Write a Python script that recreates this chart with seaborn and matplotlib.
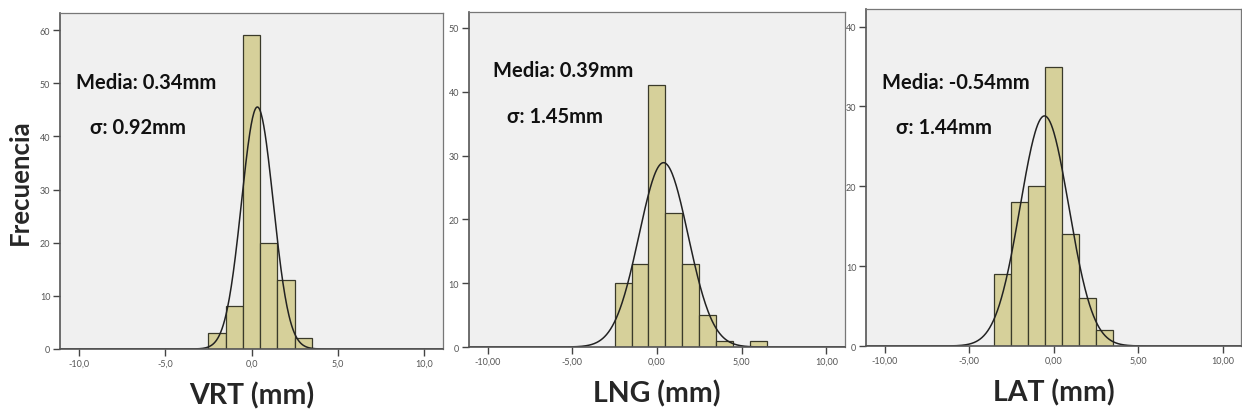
import matplotlib
matplotlib.use("Agg")
import matplotlib.pyplot as plt
import numpy as np
import seaborn as sns

# bin centres (width 1 mm) and counts
vrt_bins = [-2, -1, 0, 1, 2, 3]
vrt_counts = [3, 8, 59, 20, 13, 2]
lng_bins = [-2, -1, 0, 1, 2, 3, 4, 5, 6]
lng_counts = [10, 13, 41, 21, 13, 5, 1, 0, 1]
lat_bins = [-3, -2, -1, 0, 1, 2, 3]
lat_counts = [9, 18, 20, 35, 14, 6, 2]

means = [0.34, 0.39, -0.54]
sigmas = [0.92, 1.45, 1.44]
xlabels = ["VRT (mm)", "LNG (mm)", "LAT (mm)"]
xticks = [-10, -5, 0, 5, 10]
xticklabels = [["-10,0", "-5,0", "0,0", "5,0", "10,0"],
               ["-10,00", "-5,00", "0,00", "5,00", "10,00"],
               ["-10,00", "-5,00", "0,00", "5,00", "10,00"]]
yticks = [[0, 10, 20, 30, 40, 50, 60], [0, 10, 20, 30, 40, 50], [0, 10, 20, 30, 40]]
ytops = [63.2, 52.5, 42.2]

sns.set_style("ticks")
plt.rcParams["font.family"] = ["Lato", "DejaVu Sans"]

BAR = "#d6d09a"
BG = "#f0f0f0"

fig = plt.figure(figsize=(12.42, 4.14), dpi=100)
rects = [[0.0483, 0.1546, 0.3084, 0.8114],
         [0.3776, 0.1594, 0.3027, 0.8092],
         [0.6973, 0.1618, 0.3020, 0.8140]]
data = [(vrt_bins, vrt_counts), (lng_bins, lng_counts), (lat_bins, lat_counts)]
# text anchors in data coords (media line, sigma line)
txt_pos = [((-10.2, 50.2), (-9.36, 41.7)),
           ((-9.7, 43.4), (-8.84, 36.2)),
           ((-10.18, 33.1), (-9.3, 27.4))]

for i, rect in enumerate(rects):
    ax = fig.add_axes(rect)
    ax.set_facecolor(BG)
    bins, counts = data[i]
    sns.histplot(x=bins, weights=counts, discrete=True, ax=ax,
                 color=BAR, alpha=1, edgecolor="#3a3a2a", linewidth=0.9)

    # fitted normal curve, scaled to the counts (bin width 1)
    n = sum(counts)
    xs = np.linspace(-11.5, 11.5, 600)
    ys = n / (sigmas[i] * np.sqrt(2 * np.pi)) * np.exp(-0.5 * ((xs - means[i]) / sigmas[i]) ** 2)
    sns.lineplot(x=xs, y=ys, ax=ax, color="#222222", linewidth=1.1)

    ax.set_xlim(-11.1, 11.1)
    ax.set_ylim(0, ytops[i])
    ax.set_xticks(xticks)
    ax.set_xticklabels(xticklabels[i])
    ax.set_yticks(yticks[i])
    ax.tick_params(axis="both", which="major", direction="out", length=5, width=1,
                   labelsize=6.5, labelcolor="#555555", color="#444444", pad=2)
    for side in ["left", "bottom"]:
        ax.spines[side].set_color("#555555")
        ax.spines[side].set_linewidth(1.2)
    for side in ["top", "right"]:
        ax.spines[side].set_color("#777777")
        ax.spines[side].set_linewidth(0.9)

    ax.set_xlabel(xlabels[i], fontsize=20.5, fontweight="bold", labelpad=10)
    if i == 0:
        ax.set_ylabel("Frecuencia", fontsize=18.5, fontweight="bold", labelpad=6)
    else:
        ax.set_ylabel("")

    (mx, my), (sx, sy) = txt_pos[i]
    sign = "-" if means[i] < 0 else ""
    ax.text(mx, my, f"Media: {sign}{abs(means[i]):.2f}mm", fontsize=14.5,
            fontweight="bold", va="center", ha="left", color="#111111")
    ax.text(sx, sy, f"σ: {sigmas[i]:.2f}mm", fontsize=14.5,
            fontweight="bold", va="center", ha="left", color="#111111")

fig.savefig("out.png", dpi=100, facecolor="white")
